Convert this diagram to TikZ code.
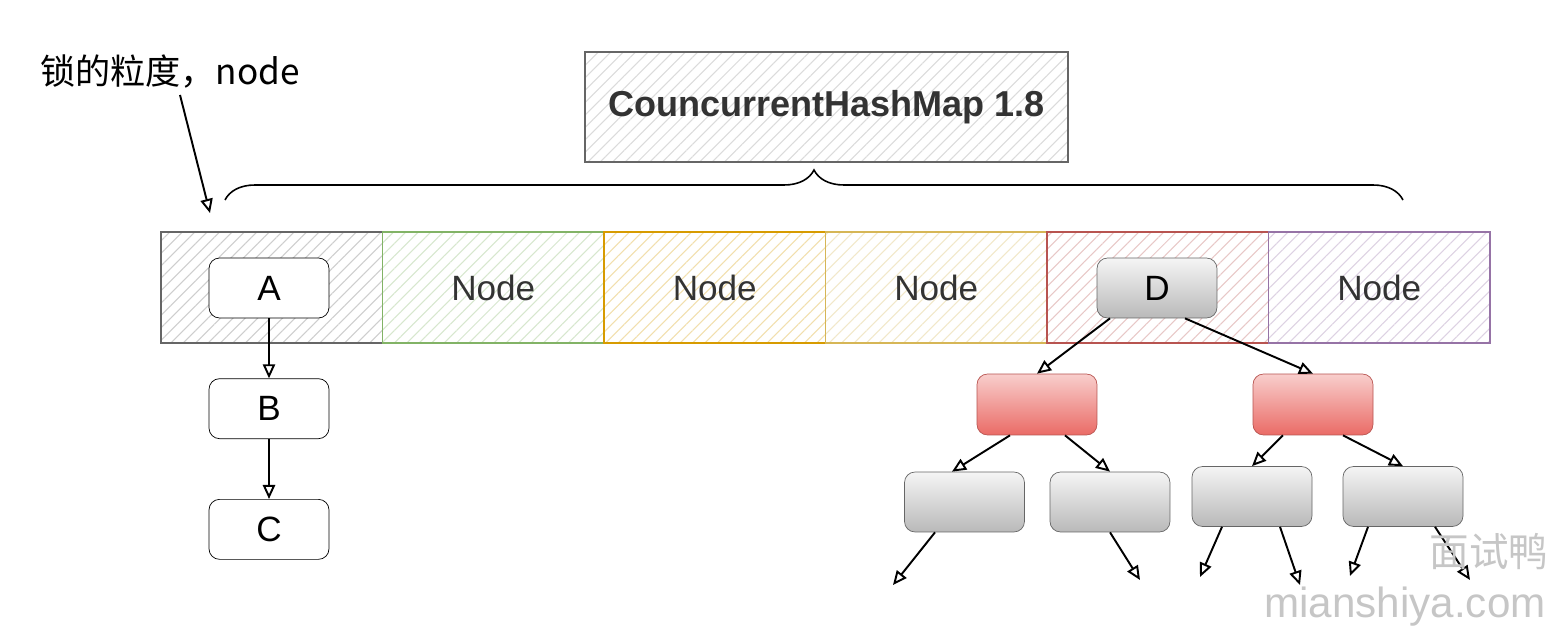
\documentclass[tikz,border=0pt]{standalone}
\usepackage{fontspec}
\setmainfont{Liberation Sans}
\newfontfamily\cjk{Noto Sans CJK SC}
\usepackage{tikz}
\usetikzlibrary{positioning,arrows.meta,patterns.meta,decorations.pathreplacing}
\usepackage{xcolor}
\definecolor{grayline}{HTML}{666666}
\definecolor{textgray}{HTML}{333333}
\definecolor{greenline}{HTML}{82B366}
\definecolor{orangeline}{HTML}{D79B00}
\definecolor{yellowline}{HTML}{D6B656}
\definecolor{redline}{HTML}{B85450}
\definecolor{purpleline}{HTML}{9673A6}
\definecolor{redtop}{HTML}{F8CECC}
\definecolor{redbottom}{HTML}{EA6B66}

\begin{document}
\begin{tikzpicture}[
    x=0.02cm, y=-0.02cm,
    hatch/.style={pattern={Lines[angle=45, distance=5pt, line width=0.6pt]}, pattern color=#1},
    slot/.style={draw=#1, line width=1pt, hatch=#1!32, minimum width=4.43cm, minimum height=2.22cm,
        inner sep=0pt, text=textgray, font=\fontsize{20}{24}\selectfont},
    listnode/.style={draw, rounded corners=6pt, fill=white, minimum width=2.4cm, minimum height=1.2cm,
        inner sep=0pt, font=\fontsize{20}{24}\selectfont},
    treenode/.style={draw=grayline, rounded corners=6pt, top color=gray!8, bottom color=gray!55,
        minimum width=2.4cm, minimum height=1.2cm, inner sep=0pt, font=\fontsize{20}{24}\selectfont},
    rednode/.style={draw=redline, rounded corners=6pt, top color=redtop, bottom color=redbottom,
        minimum width=2.4cm, minimum height=1.22cm, inner sep=0pt},
    link/.style={-{Triangle[open, length=8pt, width=7pt]}, line width=1.1pt}
]
    \useasboundingbox[fill=white] (0,0) rectangle (1566,638);

    % Title and brace
    \node[draw=grayline, line width=0.9pt, hatch=gray!28, minimum width=9.66cm, minimum height=2.2cm,
        text=textgray, font=\fontsize{20.5}{24}\selectfont\bfseries] (title) at (826.5,107) {CouncurrentHashMap 1.8};
    \coordinate (bl) at (225,200);
    \coordinate (br) at (1403,200);
    \draw[line width=0.9pt, decorate, decoration={brace, amplitude=0.6cm}] (bl) -- (br);

    % Slots
    \foreach \i/\c/\t in {1/grayline/, 2/greenline/Node, 3/orangeline/Node,
                          4/yellowline/Node, 5/redline/, 6/purpleline/Node} {
        \node[slot=\c] (n\i) at (161+221.5*\i-110.75, 287.5) {\t};
    }

    % Lock label
    \node[font=\cjk\fontsize{20}{24}\selectfont] (lbl) at (170,72) {锁的粒度，node};
    \coordinate (tip) at (210,213);
    \draw[link] ([xshift=0.2cm]lbl.south) -- (tip);

    % Linked list
    \node[listnode] (A) at (269,288) {A};
    \node[listnode, below=1.2cm of A] (B) {B};
    \node[listnode, below=1.2cm of B] (C) {C};
    \draw[link] (A) -- (B);
    \draw[link] (B) -- (C);

    % Red-black tree
    \node[treenode] (D) at (1157,288) {D};
    \node[rednode] (r1) at (1037,404.5) {};
    \node[rednode] (r2) at (1313,404.5) {};
    \node[treenode] (l1) at (964.5,502) {};
    \node[treenode] (l2) at (1110,502) {};
    \node[treenode] (l3) at (1252,496.5) {};
    \node[treenode] (l4) at (1403,496.5) {};

    \draw[link] ([xshift=-0.94cm]D.south) -- (r1.north);
    \draw[link] ([xshift=0.56cm]D.south) -- (r2.north);
    \draw[link] ([xshift=-0.54cm]r1.south) -- ([xshift=-0.25cm]l1.north);
    \draw[link] ([xshift=0.56cm]r1.south) -- (l2.north);
    \draw[link] ([xshift=-0.6cm]r2.south) -- (l3.north);
    \draw[link] ([xshift=0.6cm]r2.south) -- (l4.north);

    % Open ends
    \coordinate (e1) at (893,585);
    \coordinate (e2) at (1140,580);
    \coordinate (e3) at (1200,577);
    \coordinate (e4) at (1300,585);
    \coordinate (e5) at (1350,576);
    \coordinate (e6) at (1470,580);
    \draw[link] ([xshift=-0.59cm]l1.south) -- (e1);
    \draw[link] (l2.south) -- (e2);
    \draw[link] ([xshift=-0.6cm]l3.south) -- (e3);
    \draw[link] ([xshift=0.56cm]l3.south) -- (e4);
    \draw[link] ([xshift=-0.7cm]l4.south) -- (e5);
    \draw[link] ([xshift=0.64cm]l4.south) -- (e6);

    % Watermark
    \node[text=gray!45, font=\cjk\fontsize{22.5}{26}\selectfont] (wm1) at (1489,552) {面试鸭};
    \node[text=gray!45, font=\fontsize{24}{28}\selectfont] (wm2) at (1405,607) {mianshiya.com};
\end{tikzpicture}
\end{document}
